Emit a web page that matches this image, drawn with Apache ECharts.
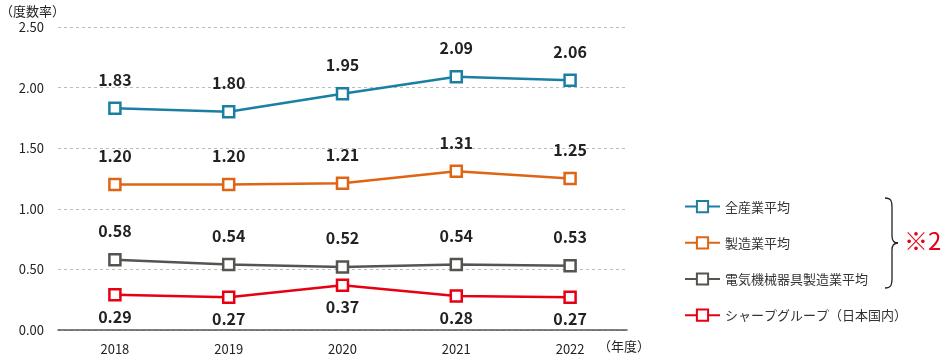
<!DOCTYPE html>
<html><head><meta charset="utf-8">
<script src="https://cdn.jsdelivr.net/npm/echarts@6/dist/echarts.min.js"></script>
<style>html,body{margin:0;padding:0;background:#fff}#c{width:950px;height:360px}</style>
</head><body><div id="c"></div>
<script>
const categories = ['2018','2019','2020','2021','2022'];
const seriesNames = ['全産業平均','製造業平均','電気機械器具製造業平均','シャープグループ（日本国内）'];
const allIndustry = [1.83,1.80,1.95,2.09,2.06];
const manufacturing = [1.20,1.20,1.21,1.31,1.25];
const electrical = [0.58,0.54,0.52,0.54,0.53];
const sharp = [0.29,0.27,0.37,0.28,0.27];
const colors = ['#1a7fa3','#df6413','#55554f','#e60012'];
const font = '"Noto Sans CJK JP","Noto Sans",sans-serif';

function mk(name, data, color, pos){
  return {name, type:'line', data, symbol:'rect', symbolSize:11,
    itemStyle:{color:'#fff', borderColor:color, borderWidth:2.5},
    lineStyle:{color, width:2.5},
    label:{show:true, position:pos, distance:pos==='top'?14:7, formatter:p=>p.value.toFixed(2),
      color:'#222', fontSize:16, fontWeight:'bold', fontFamily:font},
    z: 3};
}
const bs = {fill:'none', stroke:'#222', lineWidth:1.3};
const chart = echarts.init(document.getElementById('c'));
chart.setOption({
  animation:false,
  textStyle:{fontFamily:font},
  grid:{left:58, right:323, top:27, bottom:30, outerBoundsMode:'none', containLabel:false},
  xAxis:{type:'category', data:categories, boundaryGap:true,
    axisLine:{lineStyle:{color:'#555', width:1.5}}, axisTick:{show:false},
    axisLabel:{color:'#222', fontSize:13, margin:13, fontFamily:font}},
  yAxis:{type:'value', min:0, max:2.5, interval:0.5,
    axisLine:{show:false}, axisTick:{show:false},
    axisLabel:{color:'#222', fontSize:13, margin:14, formatter:v=>v.toFixed(2)},
    splitLine:{lineStyle:{color:'#bbb', type:[3,3]}}},
  legend:{orient:'vertical', left:679, top:195, itemGap:23, itemWidth:35, itemHeight:14,
    data:seriesNames, textStyle:{color:'#333', fontSize:13, fontFamily:font}},
  graphic:[
    {type:'text', left:0, top:5, style:{text:'（度数率）', fill:'#222', font:'13px '+font}},
    {type:'text', left:598, top:340, style:{text:'（年度）', fill:'#222', font:'13px '+font}},
    {type:'bezierCurve', shape:{x1:885,y1:198,x2:892,y2:207,cpx1:891,cpy1:198,cpx2:892,cpy2:201}, style:bs},
    {type:'line', shape:{x1:892,y1:207,x2:892,y2:236}, style:bs},
    {type:'bezierCurve', shape:{x1:892,y1:236,x2:898,y2:243,cpx1:892,cpy1:240,cpx2:894,cpy2:243}, style:bs},
    {type:'bezierCurve', shape:{x1:898,y1:243,x2:892,y2:250,cpx1:894,cpy1:243,cpx2:892,cpy2:246}, style:bs},
    {type:'line', shape:{x1:892,y1:250,x2:892,y2:279}, style:bs},
    {type:'bezierCurve', shape:{x1:892,y1:279,x2:885,y2:288,cpx1:892,cpy1:285,cpx2:891,cpy2:288}, style:bs},
    {type:'text', left:904, top:229, style:{text:'※2', fill:'#e60012', font:'24px '+font}}
  ],
  series:[
    mk(seriesNames[0], allIndustry, colors[0], 'top'),
    mk(seriesNames[1], manufacturing, colors[1], 'top'),
    mk(seriesNames[2], electrical, colors[2], 'top'),
    mk(seriesNames[3], sharp, colors[3], 'bottom')
  ]
});
</script></body></html>
